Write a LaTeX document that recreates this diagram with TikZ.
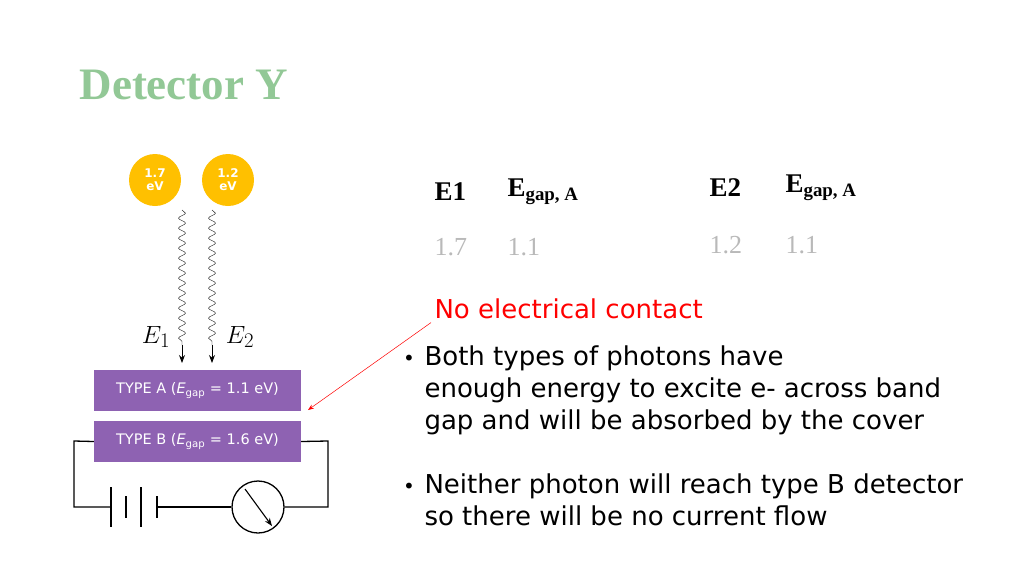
\documentclass[tikz,border=0pt]{standalone}
\usepackage{fontspec}
\setmainfont{Liberation Serif}
\setsansfont{DejaVu Sans}
\usetikzlibrary{positioning, decorations.pathmorphing, arrows.meta}
\definecolor{titlegreen}{RGB}{146,200,150}
\definecolor{photon}{RGB}{255,192,0}
\definecolor{layerpurple}{RGB}{142,98,178}
\tikzset{
	photondot/.style={circle, fill=photon, minimum size=52pt, inner sep=0pt,
		text=white, align=center, font={\sffamily\bfseries\fontsize{12}{13}\selectfont}},
	layer/.style={fill=layerpurple, minimum width=207pt, minimum height=41pt,
		text=white, font={\sffamily\fontsize{14.5}{16}\selectfont}},
	wave/.style={decorate, decoration={snake, amplitude=3.5pt, segment length=10pt}},
	head/.style={font={\bfseries\fontsize{27}{29}\selectfont}, anchor=west},
	val/.style={text=gray!55, font={\fontsize{26}{28}\selectfont}, anchor=west},
	body/.style={font={\sffamily\fontsize{26}{32}\selectfont}, align=left, anchor=north west},
	wire/.style={line width=1.3pt}
}
\begin{document}
\begin{tikzpicture}[x=1pt, y=-1pt]
	\useasboundingbox (0,0) rectangle (1024,576);
	\node[text=titlegreen, font={\bfseries\fontsize{45}{48}\selectfont}, anchor=west] (title) at (76,85) {Detector Y};
	% photons
	\node[photondot] (p1) at (155,180) {1.7\\eV};
	\node[photondot] (p2) at (228,180) {1.2\\eV};
	\coordinate (w1) at (182,210);
	\coordinate (w2) at (212,210);
	\coordinate (m1) at (182,345);
	\coordinate (m2) at (212,345);
	\coordinate (a1) at (182,363);
	\coordinate (a2) at (212,363);
	\draw[wave] (w1) -- (m1);
	\draw[wave] (w2) -- (m2);
	\draw[-{Stealth[length=8pt]}, line width=0.9pt] (m1) -- (a1);
	\draw[-{Stealth[length=8pt]}, line width=0.9pt] (m2) -- (a2);
	\node[font={\fontsize{28}{30}\selectfont}] (e1) at (156,337) {$E_1$};
	\node[font={\fontsize{28}{30}\selectfont}] (e2) at (240,337) {$E_2$};
	% detector layers
	\node[layer] (typea) at (197.5,390.5) {TYPE A (\textit{E}\textsubscript{gap} = 1.1 eV)};
	\node[layer] (typeb) at (197.5,441.5) {TYPE B (\textit{E}\textsubscript{gap} = 1.6 eV)};
	% circuit
	\node[circle, draw, line width=1.3pt, minimum size=52pt] (meter) at (258,507) {};
	\draw[wire] (typeb.west) -- (74,441) -- (74,507) -- (111,507);
	\draw[wire] (typeb.east) -- (328,441) -- (328,507) -- (meter.east);
	\draw[wire] (157,507) -- (meter.west);
	\foreach \x/\h in {111/20, 126/11, 141/20, 157/11}
		\draw[wire] (\x,507-\h) -- (\x,507+\h);
	\draw[-{Stealth[length=8pt]}, line width=1.1pt] ([shift={(-13,-18)}]meter.center) -- ([shift={(14,19)}]meter.center);
	% table
	\node[head] (h1) at (431,192) {E1};
	\node[head] (h2) at (504,192) {E\textsubscript{gap, A}};
	\node[head] (h3) at (706,188) {E2};
	\node[head] (h4) at (782,188) {E\textsubscript{gap, A}};
	\node[val] (v1) at (431,247) {1.7};
	\node[val] (v2) at (504,247) {1.1};
	\node[val] (v3) at (706,245) {1.2};
	\node[val] (v4) at (782,245) {1.1};
	% annotation
	\node[text=red, font={\sffamily\fontsize{26}{28}\selectfont}, anchor=west] (note) at (431,309) {No electrical contact};
	\draw[red, -{Stealth[length=6pt]}, line width=0.5pt] (note.south west) -- (308,410);
	\node[body] (b1) at (421,342) {Both types of photons have\\enough energy to excite e- across band\\gap and will be absorbed by the cover};
	\node[body] (b2) at (421,470) {Neither photon will reach type B detector\\so there will be no current flow};
	\node[font={\sffamily\fontsize{20}{22}\selectfont}] (d1) at (409,360) {\textbullet};
	\node[font={\sffamily\fontsize{20}{22}\selectfont}] (d2) at (409,488) {\textbullet};
\end{tikzpicture}
\end{document}
